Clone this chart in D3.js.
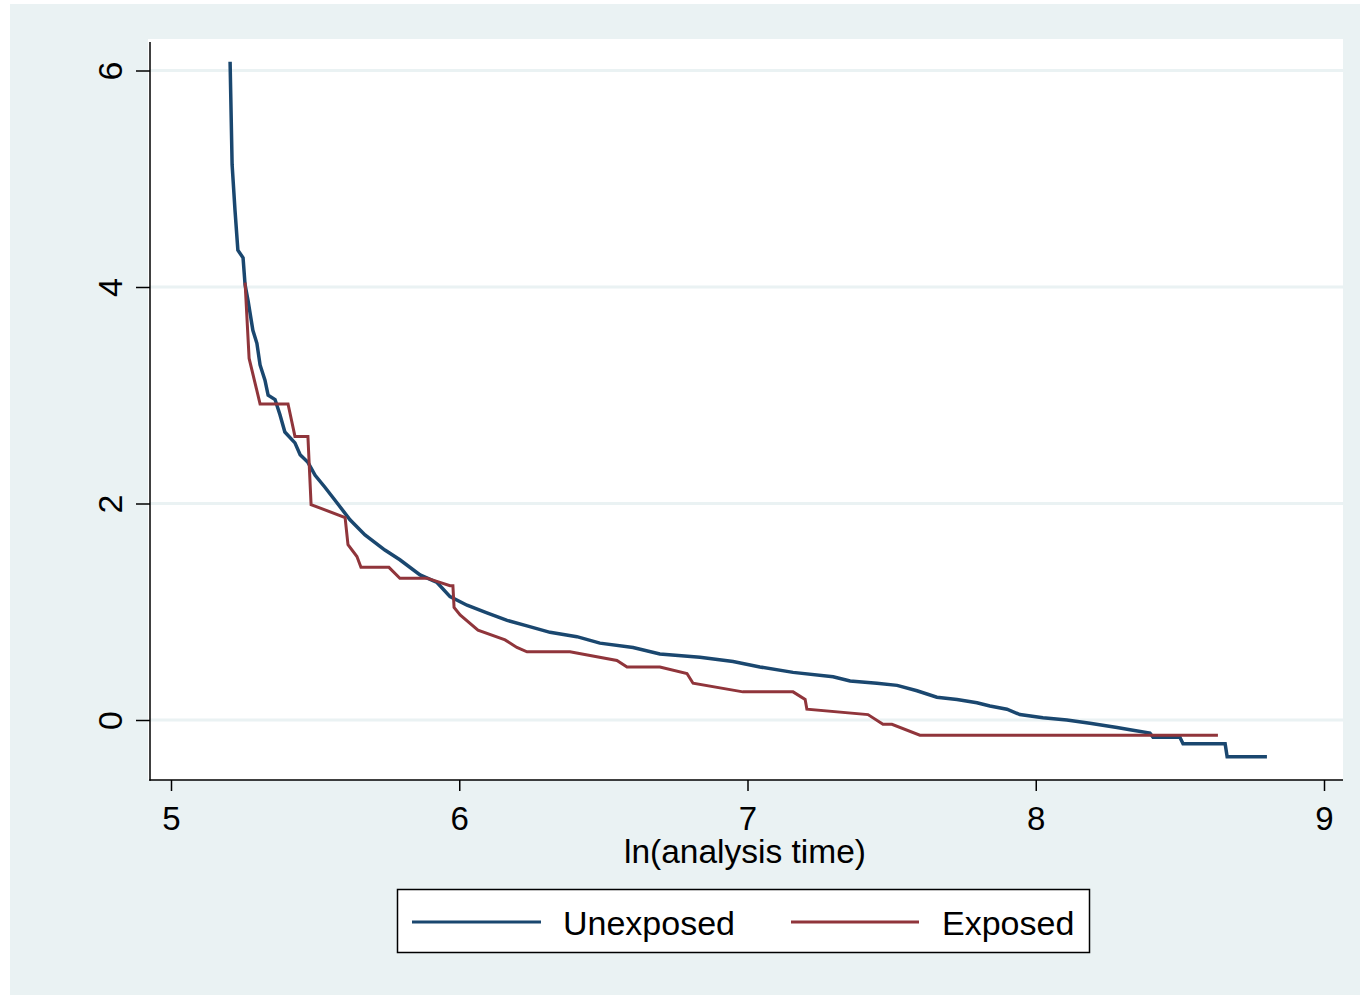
<!DOCTYPE html>
<html>
<head>
<meta charset="utf-8">
<script src="https://cdn.jsdelivr.net/npm/d3@7"></script>
<style>
  html, body { margin: 0; padding: 0; background: #ffffff; }
  svg { display: block; }
  text { font-family: "Liberation Sans", Arial, Helvetica, sans-serif; fill: #000; }
</style>
</head>
<body>
<svg id="chart" width="1360" height="995"></svg>
<script>
// ---- Data ----
const seriesNames = ["Unexposed", "Exposed"];
const xTicks = [5, 6, 7, 8, 9];
const yTicks = [0, 2, 4, 6];
const xTitle = "ln(analysis time)";

// Unexposed: [ln(t), -ln(-ln S)]
const unexposed = [
  [5.205,6.08],[5.212,5.13],[5.222,4.71],[5.232,4.34],[5.250,4.27],[5.257,4.02],
  [5.267,3.88],[5.284,3.60],[5.298,3.48],[5.309,3.28],[5.326,3.14],[5.337,3.00],
  [5.361,2.96],[5.378,2.82],[5.395,2.66],[5.430,2.56],[5.448,2.45],[5.475,2.38],
  [5.500,2.26],[5.534,2.15],[5.569,2.03],[5.621,1.85],[5.673,1.71],[5.742,1.57],
  [5.794,1.48],[5.864,1.34],[5.923,1.27],[5.968,1.14],[6.027,1.06],[6.096,0.99],
  [6.166,0.92],[6.235,0.87],[6.315,0.81],[6.408,0.77],[6.488,0.71],[6.603,0.67],
  [6.696,0.61],[6.835,0.58],[6.950,0.54],[7.043,0.49],[7.158,0.44],[7.297,0.40],
  [7.356,0.36],[7.449,0.34],[7.519,0.32],[7.588,0.27],[7.657,0.21],[7.727,0.19],
  [7.796,0.16],[7.841,0.13],[7.900,0.10],[7.945,0.05],[8.025,0.02],[8.108,0.00],
  [8.188,-0.03],[8.282,-0.07],[8.327,-0.09],[8.396,-0.12],[8.407,-0.16],[8.500,-0.16],
  [8.511,-0.22],[8.657,-0.22],[8.664,-0.34],[8.802,-0.34]
];

// Exposed
const exposed = [
  [5.257,4.04],[5.271,3.34],[5.309,2.92],[5.406,2.92],[5.430,2.62],[5.475,2.62],
  [5.486,1.99],[5.604,1.87],[5.614,1.62],[5.645,1.51],[5.659,1.41],[5.756,1.41],
  [5.794,1.31],[5.888,1.31],[5.968,1.24],[5.978,1.24],[5.982,1.04],[6.003,0.97],
  [6.065,0.83],[6.159,0.74],[6.200,0.67],[6.235,0.63],[6.384,0.63],[6.547,0.55],
  [6.582,0.49],[6.696,0.49],[6.790,0.43],[6.811,0.34],[6.984,0.26],[7.158,0.26],
  [7.200,0.19],[7.206,0.10],[7.418,0.05],[7.470,-0.04],[7.501,-0.04],[7.598,-0.14],
  [8.632,-0.14]
];

const colors = ["#1a476f", "#90353b"];
const widths = [3.5, 3];

// ---- Layout ----
const svg = d3.select("#chart");
const bg = "#eaf2f3";
const plot = { left: 148, top: 39, right: 1343, bottom: 780 };

svg.append("rect").attr("x", 10).attr("y", 4).attr("width", 1350).attr("height", 991).attr("fill", bg);
svg.append("rect").attr("x", plot.left).attr("y", plot.top)
  .attr("width", plot.right - plot.left).attr("height", plot.bottom - plot.top).attr("fill", "#ffffff");

const x = d3.scaleLinear().domain([5, 9]).range([171, 1324]);
const y = d3.scaleLinear().domain([0, 6]).range([720, 70.5]);

// gridlines
svg.append("g").selectAll("line").data(yTicks).join("line")
  .attr("x1", 150).attr("x2", plot.right)
  .attr("y1", d => y(d)).attr("y2", d => y(d))
  .attr("stroke", bg).attr("stroke-width", 3);

// series
const line = d3.line().x(d => x(d[0])).y(d => y(d[1]));
[unexposed, exposed].forEach((s, i) => {
  svg.append("path").datum(s).attr("d", line)
    .attr("fill", "none").attr("stroke", colors[i]).attr("stroke-width", widths[i])
    .attr("stroke-linejoin", "miter");
});

// axes
const yAxis = d3.axisLeft(y).tickValues(yTicks).tickSize(14).tickSizeOuter(0).tickFormat(d3.format("d"));
const gy = svg.append("g").attr("transform", "translate(150,0)").call(yAxis);
gy.select(".domain").remove();
gy.selectAll(".tick line").attr("stroke", "#000").attr("stroke-width", 1.5);
gy.selectAll(".tick text")
  .attr("x", null).attr("dy", null)
  .attr("transform", "translate(-28,0) rotate(-90)")
  .attr("text-anchor", "middle")
  .style("font-size", "34px");

const xAxis = d3.axisBottom(x).tickValues(xTicks).tickSize(11).tickSizeOuter(0).tickFormat(d3.format("d"));
const gx = svg.append("g").attr("transform", `translate(0,${plot.bottom})`).call(xAxis);
gx.select(".domain").remove();
gx.selectAll(".tick line").attr("stroke", "#000").attr("stroke-width", 1.5);
gx.selectAll(".tick text").attr("y", 50).attr("dy", null)
  .attr("text-anchor", "middle").style("font-size", "33px");

// axis lines
svg.append("line").attr("x1", 150).attr("x2", 150).attr("y1", 42).attr("y2", plot.bottom + 0.75)
  .attr("stroke", "#000").attr("stroke-width", 1.5);
svg.append("line").attr("x1", 149.25).attr("x2", plot.right).attr("y1", plot.bottom).attr("y2", plot.bottom)
  .attr("stroke", "#000").attr("stroke-width", 1.5);

// x title
svg.append("text").attr("x", 745).attr("y", 863).attr("text-anchor", "middle")
  .style("font-size", "33.5px").text(xTitle);

// legend
const lg = svg.append("g");
lg.append("rect").attr("x", 397.5).attr("y", 889.5).attr("width", 692).attr("height", 63)
  .attr("fill", "#fff").attr("stroke", "#000").attr("stroke-width", 1.5);
const legendItems = [
  { x1: 412, x2: 541, tx: 563 },
  { x1: 791, x2: 919, tx: 942 }
];
legendItems.forEach((it, i) => {
  lg.append("line").attr("x1", it.x1).attr("x2", it.x2).attr("y1", 922).attr("y2", 922)
    .attr("stroke", colors[i]).attr("stroke-width", 3);
  lg.append("text").attr("x", it.tx).attr("y", 935).style("font-size", "34px").text(seriesNames[i]);
});
</script>
</body>
</html>
